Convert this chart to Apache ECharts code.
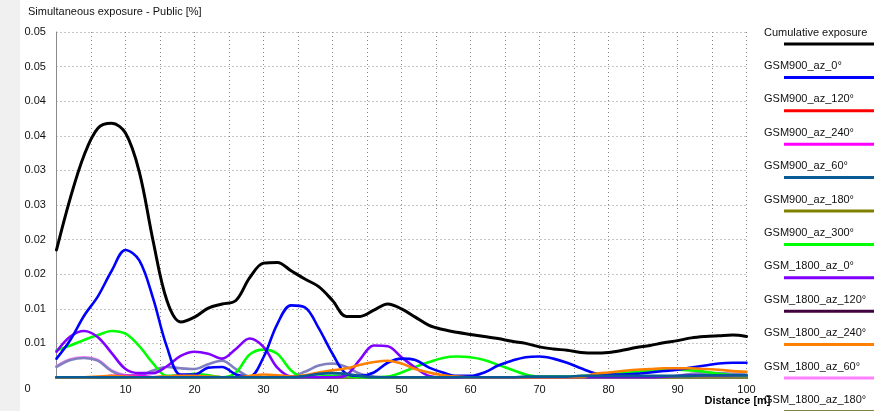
<!DOCTYPE html>
<html>
<head>
<meta charset="utf-8">
<script src="https://cdn.jsdelivr.net/npm/echarts@6/dist/echarts.min.js"></script>
<style>html,body{margin:0;padding:0;background:#fff;}#c{width:874px;height:411px;}</style>
</head>
<body>
<div id="c"></div>
<script>
// ---- data ----
const distance = [0,2,4,6,8,10,12,14,16,18,20,22,24,26,28,30,32,34,36,38,40,42,44,46,48,50,52,54,56,58,60,62,64,66,68,70,72,74,76,78,80,82,84,86,88,90,92,94,96,98,100];
const xTickLabels = [10,20,30,40,50,60,70,80,90,100];
const yTickLabels = ['0','0.01','0.01','0.02','0.02','0.03','0.03','0.04','0.04','0.05','0.05'];

const cumulative = [0.0185,0.0260,0.0322,0.0361,0.0368,0.0354,0.0298,0.0198,0.0112,0.0081,0.0088,0.0101,0.0107,0.0112,0.0145,0.0166,0.0167,0.0155,0.0143,0.0132,0.0112,0.0089,0.0089,0.0098,0.0107,0.0100,0.0088,0.0076,0.0070,0.0066,0.0063,0.0060,0.0057,0.0053,0.0050,0.0045,0.0042,0.0040,0.0037,0.0036,0.0037,0.0040,0.0044,0.0047,0.0051,0.0054,0.0058,0.0060,0.0061,0.0062,0.0060];
const gsm900_0 = [0.0028,0.0055,0.0090,0.0118,0.0155,0.0185,0.0170,0.0115,0.0045,0.0005,0.0005,0.0015,0.0016,0.0005,0.0002,0.0030,0.0078,0.0105,0.0102,0.0072,0.0035,0.0006,0.0003,0.0008,0.0022,0.0028,0.0026,0.0015,0.0008,0.0003,0.0003,0.0008,0.0018,0.0025,0.0030,0.0031,0.0028,0.0022,0.0014,0.0007,0.0005,0.0005,0.0006,0.0008,0.0010,0.0012,0.0015,0.0018,0.0021,0.0022,0.0022];
const gsm900_120 = [0.0001,0.0001,0.0001,0.0001,0.0001,0.0001,0.0001,0.0001,0.0002,0.0004,0.0004,0.0002,0.0001,0.0001,0.0001,0.0001,0.0001,0.0001,0.0001,0.0001,0.0001,0.0001,0.0001,0.0001,0.0001,0.0001,0.0001,0.0001,0.0001,0.0001,0.0001,0.0001,0.0001,0.0001,0.0001,0.0001,0.0001,0.0001,0.0001,0.0001,0.0001,0.0001,0.0001,0.0001,0.0001,0.0001,0.0001,0.0001,0.0001,0.0001,0.0001];
const gsm900_240 = [0.0001,0.0001,0.0001,0.0001,0.0003,0.0003,0.0003,0.0001,0.0001,0.0001,0.0001,0.0001,0.0001,0.0001,0.0001,0.0001,0.0001,0.0001,0.0001,0.0001,0.0001,0.0001,0.0001,0.0001,0.0001,0.0001,0.0001,0.0001,0.0001,0.0001,0.0001,0.0001,0.0001,0.0001,0.0001,0.0001,0.0001,0.0001,0.0001,0.0001,0.0001,0.0001,0.0001,0.0001,0.0001,0.0001,0.0001,0.0001,0.0001,0.0001,0.0001];
const gsm900_60 = [0.0001,0.0001,0.0001,0.0001,0.0001,0.0001,0.0001,0.0001,0.0001,0.0001,0.0001,0.0001,0.0001,0.0001,0.0001,0.0001,0.0001,0.0001,0.0003,0.0006,0.0007,0.0006,0.0003,0.0001,0.0001,0.0001,0.0001,0.0001,0.0001,0.0001,0.0001,0.0001,0.0001,0.0001,0.0002,0.0002,0.0002,0.0002,0.0003,0.0003,0.0003,0.0003,0.0003,0.0003,0.0003,0.0003,0.0003,0.0004,0.0004,0.0004,0.0004];
const gsm900_180 = [0.00005,0.00005,0.00005,0.00005,0.00005,0.00005,0.00005,0.00005,0.00005,0.00005,0.00005,0.00005,0.00005,0.00005,0.00005,0.00005,0.00005,0.00005,0.00005,0.00005,0.00005,0.00005,0.00005,0.00005,0.00005,0.00005,0.00005,0.00005,0.00005,0.00005,0.00005,0.00005,0.00005,0.00005,0.00005,0.00005,0.00005,0.00005,0.00005,0.00005,0.00005,0.00005,0.00005,0.00005,0.00005,0.00005,0.00005,0.00005,0.00005,0.00005,0.00005];
const gsm900_300 = [0.0040,0.0047,0.0055,0.0062,0.0068,0.0064,0.0046,0.0021,0.0003,0.0003,0.0006,0.0004,0.0001,0.0008,0.0034,0.0041,0.0035,0.0011,0.0001,0.0002,0.0003,0.0003,0.0001,0.0001,0.0002,0.0008,0.0016,0.0023,0.0029,0.0031,0.0030,0.0026,0.0019,0.0012,0.0005,0.0002,0.0002,0.0002,0.0003,0.0004,0.0005,0.0007,0.0009,0.0011,0.0012,0.0012,0.0011,0.0009,0.0006,0.0004,0.0003];
const gsm1800_0 = [0.0038,0.0060,0.0068,0.0059,0.0036,0.0013,0.0007,0.0007,0.0017,0.0032,0.0038,0.0035,0.0028,0.0042,0.0057,0.0045,0.0015,0.0002,0.0001,0.0001,0.0001,0.0004,0.0027,0.0047,0.0046,0.0030,0.0015,0.0003,0.0001,0.0001,0.0001,0.0001,0.0001,0.0001,0.0001,0.0001,0.0001,0.0001,0.0001,0.0001,0.0001,0.0001,0.0001,0.0001,0.0002,0.0003,0.0004,0.0004,0.0004,0.0004,0.0004];
const gsm1800_120 = [0.00005,0.00005,0.00005,0.00005,0.00005,0.00005,0.00005,0.00005,0.00005,0.00005,0.00005,0.00005,0.00005,0.00005,0.00005,0.00005,0.00005,0.00005,0.00005,0.00005,0.00005,0.00005,0.00005,0.00005,0.00005,0.00005,0.00005,0.00005,0.00005,0.00005,0.00005,0.00005,0.00005,0.00005,0.00005,0.00005,0.00005,0.00005,0.00005,0.00005,0.00005,0.00005,0.00005,0.00005,0.00005,0.00005,0.00005,0.00005,0.00005,0.00005,0.00005];
const gsm1800_240 = [0.0001,0.0001,0.0001,0.0002,0.0003,0.0002,0.0001,0.0001,0.0002,0.0003,0.0003,0.0002,0.0001,0.0001,0.0003,0.0005,0.0004,0.0002,0.0004,0.0008,0.0011,0.0014,0.0019,0.0023,0.0025,0.0021,0.0013,0.0008,0.0004,0.0002,0.0001,0.0001,0.0001,0.0001,0.0001,0.0001,0.0001,0.0001,0.0001,0.0006,0.0008,0.0010,0.0012,0.0013,0.0014,0.0014,0.0014,0.0013,0.0012,0.0010,0.0009];
const gsm1800_60 = [0.0017,0.0027,0.0030,0.0026,0.0011,0.0004,0.0003,0.0001,0.0001,0.0001,0.0001,0.0001,0.0001,0.0001,0.0001,0.0001,0.0001,0.0001,0.0001,0.0001,0.0001,0.0001,0.0001,0.0001,0.0001,0.0001,0.0001,0.0001,0.0001,0.0001,0.0001,0.0001,0.0001,0.0001,0.0001,0.0001,0.0001,0.0001,0.0001,0.0001,0.0001,0.0001,0.0001,0.0001,0.0001,0.0001,0.0001,0.0001,0.0001,0.0001,0.0001];
const gsm1800_180 = [0.00005,0.00005,0.00005,0.00005,0.00005,0.00005,0.00005,0.00005,0.00005,0.00005,0.00005,0.00005,0.00005,0.00005,0.00005,0.00005,0.00005,0.00005,0.00005,0.00005,0.00005,0.00005,0.00005,0.00005,0.00005,0.00005,0.00005,0.00005,0.00005,0.00005,0.00005,0.00005,0.00005,0.00005,0.00005,0.00005,0.00005,0.00005,0.00005,0.00005,0.00005,0.00005,0.00005,0.00005,0.00005,0.00005,0.00005,0.00005,0.00005,0.00005,0.00005];
const gsm1800_300 = [0.0016,0.0026,0.0029,0.0025,0.0010,0.0004,0.0004,0.0011,0.0016,0.0014,0.0013,0.0020,0.0025,0.0013,0.0002,0.0001,0.0001,0.0002,0.0009,0.0018,0.0021,0.0016,0.0006,0.0002,0.0001,0.0001,0.0001,0.0001,0.0001,0.0001,0.0001,0.0001,0.0001,0.0001,0.0001,0.0001,0.0001,0.0001,0.0001,0.0001,0.0001,0.0001,0.0001,0.0001,0.0002,0.0003,0.0006,0.0007,0.0007,0.0006,0.0005];

const seriesNames = ['Cumulative exposure','GSM900_az_0°','GSM900_az_120°','GSM900_az_240°','GSM900_az_60°','GSM900_az_180°','GSM900_az_300°','GSM_1800_az_0°','GSM_1800_az_120°','GSM_1800_az_240°','GSM_1800_az_60°','GSM_1800_az_180°','GSM_1800_az_300°'];
const seriesValues = [cumulative,gsm900_0,gsm900_120,gsm900_240,gsm900_60,gsm900_180,gsm900_300,gsm1800_0,gsm1800_120,gsm1800_240,gsm1800_60,gsm1800_180,gsm1800_300];
const seriesColors = ['#000000','#0000ff','#ff0000','#ff00ff','#0a5a96','#808000','#00ff00','#8000ff','#400040','#ff8000','#ff80ff','#808040','#8080c0'];

// ---- chart ----
const chart = echarts.init(document.getElementById('c'), null, {renderer:'canvas'});
const FONT = 'Liberation Sans, Arial, sans-serif';

const drawOrder = [0,10,12,2,3,5,8,11,6,7,1,9,4];
const series = drawOrder.map(i => ({
  name: seriesNames[i],
  type: 'line',
  data: distance.map((d, k) => [d, seriesValues[i][k]]),
  showSymbol: false,
  smooth: 0.35,
  lineStyle: { color: seriesColors[i], width: i === 0 ? 3 : 2.6, cap: 'round', join: 'round' },
  itemStyle: { color: seriesColors[i] },
  z: 2,
  animation: false
}));

// legend (text above a colour line), built from names/colours
const legendGraphics = [];
seriesNames.forEach((n, i) => {
  const lineY = 44 + i * 33.4;
  legendGraphics.push({ type: 'text', left: 764, top: lineY - 17, style: { text: n, font: '11px ' + FONT, fill: '#111' }, z: 10 });
  legendGraphics.push({ type: 'line', shape: { x1: 784, y1: lineY, x2: 874, y2: lineY }, style: { stroke: seriesColors[i], lineWidth: 3 }, z: 10 });
});

const option = {
  backgroundColor: '#ffffff',
  animation: false,
  grid: { left: 56.5, right: 127.5, top: 32, bottom: 33, containLabel: false },
  xAxis: {
    type: 'value', min: 0, max: 100, interval: 5,
    name: 'Distance [m]', nameLocation: 'end', nameGap: 24,
    nameTextStyle: { fontFamily: FONT, fontSize: 11, fontWeight: 'bold', color: '#000', align: 'right', verticalAlign: 'top', padding: [17, 0, 0, 0] },
    axisLine: { show: false }, axisTick: { show: false },
    axisLabel: { color: '#111', fontFamily: FONT, fontSize: 11, margin: 6,
      formatter: v => (xTickLabels.indexOf(v) >= 0 ? String(v) : '') },
    splitLine: { show: true, lineStyle: { color: '#8a8a8a', type: [1, 3], width: 1 } }
  },
  yAxis: {
    type: 'value', min: 0, max: 0.05, interval: 0.005,
    axisLine: { show: true, lineStyle: { color: '#8a8a8a', width: 1 } },
    axisTick: { show: false },
    axisLabel: { color: '#111', fontFamily: FONT, fontSize: 11, align: 'left', margin: 32,
      formatter: v => { const idx = Math.round(v / 0.005); return idx === 0 ? '{z|0}' : yTickLabels[idx]; },
      rich: { z: { padding: [22, 0, 0, 0], fontFamily: FONT, fontSize: 11, color: '#111' } } },
    splitLine: { show: true, lineStyle: { color: '#8a8a8a', type: [1, 3], width: 1 } }
  },
  title: { text: 'Simultaneous exposure - Public [%]', left: 28, top: 6, padding: 0,
    textStyle: { fontFamily: FONT, fontSize: 11, fontWeight: 'normal', color: '#111' } },
  graphic: [
    { type: 'rect', shape: { x: 0, y: 0, width: 20, height: 411 }, style: { fill: '#f0f0f0' }, z: -10 }
  ].concat(legendGraphics),
  series: series
};
chart.setOption(option);
</script>
</body>
</html>
